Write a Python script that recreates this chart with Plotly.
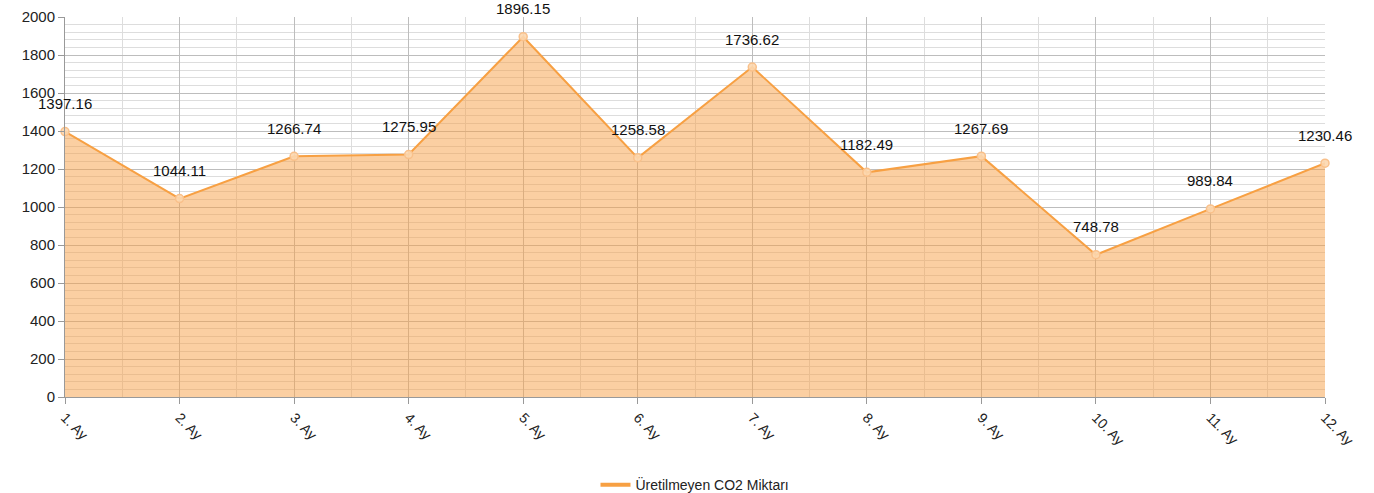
import plotly.graph_objects as go

months = ["1. Ay", "2. Ay", "3. Ay", "4. Ay", "5. Ay", "6. Ay",
          "7. Ay", "8. Ay", "9. Ay", "10. Ay", "11. Ay", "12. Ay"]
values = [1397.16, 1044.11, 1266.74, 1275.95, 1896.15, 1258.58,
          1736.62, 1182.49, 1267.69, 748.78, 989.84, 1230.46]
series_name = "Üretilmeyen CO2 Miktarı"

xs = list(range(len(months)))

fig = go.Figure()
fig.add_trace(go.Scatter(
    x=xs, y=values, name=series_name, mode="lines+markers",
    fill="tozeroy", fillcolor="rgba(247,160,70,0.5)",
    line=dict(color="#F7A043", width=2),
    marker=dict(symbol="circle", size=8, color="rgba(252,215,175,0.9)",
                line=dict(color="#F9C08A", width=1.5)),
    cliponaxis=False, showlegend=False,
))
fig.add_trace(go.Scatter(
    x=[None], y=[None], name=series_name, mode="lines",
    line=dict(color="#F7A043", width=4), showlegend=True,
))

for x, v in zip(xs, values):
    fig.add_annotation(x=x, y=v, text=f"{v:.2f}", showarrow=False,
                       yshift=28, font=dict(family="Arial", size=15, color="#111"))

fig.update_layout(
    width=1374, height=493,
    margin=dict(l=65, r=49, t=17, b=96, autoexpand=False),
    paper_bgcolor="white", plot_bgcolor="white",
    font=dict(family="Arial", size=15, color="#222"),
    showlegend=True,
    legend=dict(orientation="h", x=0.5, xanchor="center", y=-0.19, yanchor="top",
                font=dict(family="Arial", size=14, color="#222")),
    xaxis=dict(range=[0, 11], tickvals=xs, ticktext=months, tickangle=45,
               automargin=False,
               showgrid=True, gridcolor="#BDBDBD", gridwidth=1,
               minor=dict(dtick=0.5, tick0=0, showgrid=True, gridcolor="#DDDDDD", ticklen=0),
               showline=True, linecolor="#999", ticks="outside", ticklen=6, tickcolor="#999",
               zeroline=False, tickfont=dict(size=14, color="#222")),
    yaxis=dict(range=[0, 2000], dtick=200, tick0=0, automargin=False,
               showgrid=True, gridcolor="#BDBDBD", gridwidth=1,
               minor=dict(dtick=40, showgrid=True, gridcolor="#DDDDDD", ticklen=0),
               showline=True, linecolor="#999", ticks="outside", ticklen=6, tickcolor="#999",
               zeroline=False, tickfont=dict(size=15, color="#222")),
)

fig.write_html("out.html", config={"displayModeBar": False},
               post_script="document.body.style.margin='0';")
